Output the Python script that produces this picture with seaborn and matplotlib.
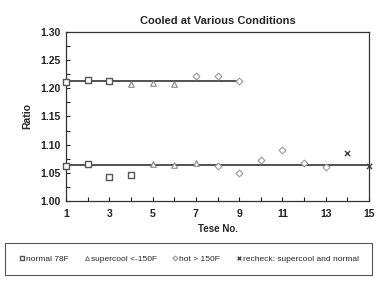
import matplotlib
matplotlib.use('Agg')
import matplotlib.pyplot as plt
import seaborn as sns
import numpy as np
from matplotlib.ticker import MultipleLocator, FixedLocator
from matplotlib.patches import Rectangle

sns.set_theme(style="white")
plt.rcParams['font.family'] = ['Liberation Sans', 'DejaVu Sans']

# Data
normal_x = [1, 2, 3, 1, 2, 3, 4]
normal_y = [1.211, 1.214, 1.212, 1.062, 1.065, 1.043, 1.046]
supercool_x = [4, 5, 6, 5, 6, 7]
supercool_y = [1.208, 1.209, 1.208, 1.065, 1.064, 1.067]
hot_x = [7, 8, 9, 8, 9, 10, 11, 12, 13]
hot_y = [1.222, 1.222, 1.212, 1.062, 1.050, 1.073, 1.090, 1.067, 1.061]
recheck_x = [14, 15]
recheck_y = [1.085, 1.063]
x_ticks = [1, 3, 5, 7, 9, 11, 13, 15]

# Average lines
upper_line_x = [1, 9]
upper_line_y = [1.212, 1.212]
lower_line_x = [1, 15]
lower_line_y = [1.064, 1.064]

fig = plt.figure(figsize=(3.77, 2.82), dpi=100)
ax = fig.add_axes([0.175, 0.287, 0.804, 0.6])

ax.plot(upper_line_x, upper_line_y, color='#333333', lw=1.2, zorder=2)
ax.plot(lower_line_x, lower_line_y, color='#333333', lw=1.2, zorder=2)

sns.scatterplot(x=normal_x, y=normal_y, ax=ax, marker='s', s=22,
                facecolor='white', edgecolor='#555555', linewidth=1.0,
                label='normal 78F', zorder=3, clip_on=False)
sns.scatterplot(x=supercool_x, y=supercool_y, ax=ax, marker='^', s=16,
                facecolor='white', edgecolor='#888888', linewidth=0.8,
                label='supercool <-150F', zorder=3, clip_on=False)
sns.scatterplot(x=hot_x, y=hot_y, ax=ax, marker='D', s=12,
                facecolor='white', edgecolor='#999999', linewidth=0.8,
                label='hot > 150F', zorder=3, clip_on=False)
sns.scatterplot(x=recheck_x, y=recheck_y, ax=ax, marker='x', s=14,
                color='#444444', linewidth=1.0,
                label='recheck: supercool and normal', zorder=3, clip_on=False)

ax.set_xlim(1, 15)
ax.set_ylim(1.0, 1.3)
ax.xaxis.set_major_locator(FixedLocator(x_ticks))
ax.xaxis.set_minor_locator(MultipleLocator(1))
ax.yaxis.set_major_locator(MultipleLocator(0.05))
ax.yaxis.set_minor_locator(MultipleLocator(0.025))
ax.yaxis.set_major_formatter(plt.FuncFormatter(lambda v, p: f'{v:.2f}'))
ax.tick_params(which='both', direction='in', length=3, width=0.8,
               bottom=True, left=True, colors='#222222', labelsize=7.5)
ax.tick_params(which='minor', length=3)
ax.tick_params(axis='x', pad=6)
for lab in ax.get_xticklabels() + ax.get_yticklabels():
    lab.set_fontweight('bold')

for sp in ax.spines.values():
    sp.set_color('#333333')
    sp.set_linewidth(0.9)

ax.set_title('Cooled at Various Conditions', fontsize=8, fontweight='bold', pad=6)
ax.set_xlabel('Tese No.', fontsize=7, fontweight='bold', labelpad=3)
ax.set_ylabel('Ratio', fontsize=7.5, fontweight='bold', labelpad=6)

# legend box spanning the figure width
fig.patches.append(Rectangle((0.013, 0.025), 0.974, 0.115, transform=fig.transFigure,
                             facecolor='white', edgecolor='#555555', linewidth=0.8))
handles, labels = ax.get_legend_handles_labels()
ax.get_legend().remove()
fig.legend(handles, labels, loc='center', bbox_to_anchor=(0.5, 0.0825),
           ncol=4, fontsize=6, frameon=False,
           handletextpad=0.1, columnspacing=1.8, handlelength=0.8,
           markerscale=0.7)

fig.savefig('out.png', dpi=100, facecolor='white')
